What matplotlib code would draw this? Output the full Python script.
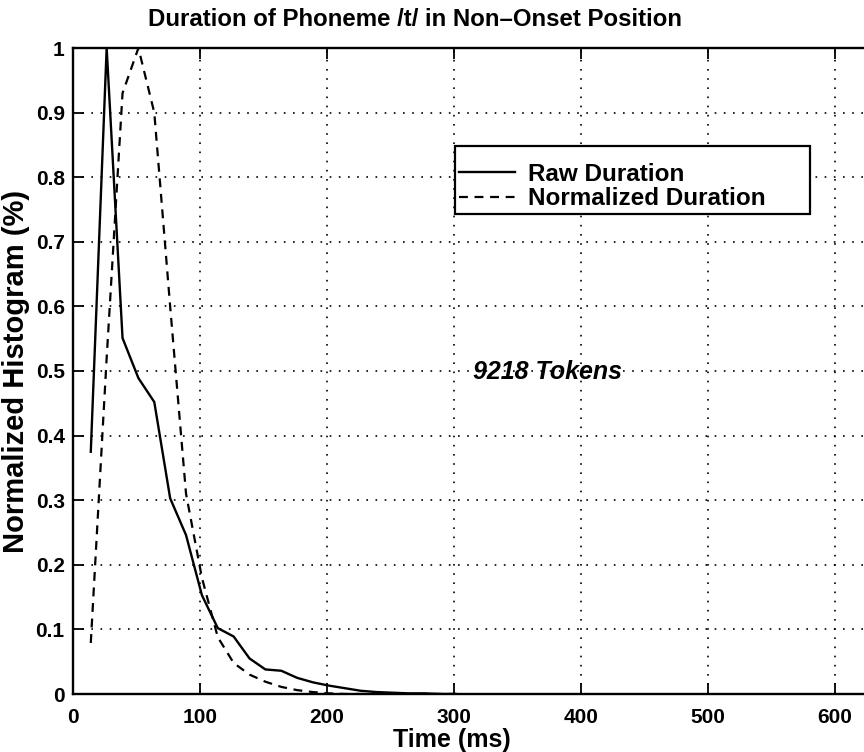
import matplotlib
matplotlib.use("Agg")
import matplotlib.pyplot as plt

plt.rcParams["font.family"] = ["Liberation Sans", "DejaVu Sans"]
plt.rcParams["font.weight"] = "bold"

# bin centres (ms)
time_ms = [14, 26.5, 39, 51.5, 64, 76.5, 89, 101.5, 114, 126.5, 139, 151.5,
           164, 176.5, 189, 201.5, 214, 226.5, 239, 251.5, 264, 276.5, 289, 301.5]
raw_dur = [0.375, 1.0, 0.551, 0.489, 0.452, 0.303, 0.246, 0.153, 0.102, 0.089,
           0.055, 0.038, 0.036, 0.025, 0.018, 0.013, 0.009, 0.005, 0.003, 0.002,
           0.001, 0.001, 0.0, 0.0]
norm_dur = [0.079, 0.52, 0.93, 1.0, 0.90, 0.60, 0.31, 0.18, 0.088, 0.048,
            0.030, 0.019, 0.011, 0.006, 0.003, 0.001, 0.0, 0.0, 0.0, 0.0,
            0.0, 0.0, 0.0, 0.0]

xticks = [0, 100, 200, 300, 400, 500, 600]
yticks = [0, 0.1, 0.2, 0.3, 0.4, 0.5, 0.6, 0.7, 0.8, 0.9, 1.0]
ytick_labels = ["0", "0.1", "0.2", "0.3", "0.4", "0.5", "0.6", "0.7", "0.8", "0.9", "1"]

fig = plt.figure(figsize=(8.64, 7.52), dpi=100)
W, H = 864, 752
# axes runs past the right edge of the picture (clipped like the scan)
ax = fig.add_axes([73 / W, 1 - 694 / H, (962 - 73) / W, (694 - 48) / H])

l1, = ax.plot(time_ms, raw_dur, color="black", lw=1.7)
l2, = ax.plot(time_ms, norm_dur, color="black", lw=1.6, linestyle=(0, (4, 3)))

ax.set_xlim(0, 700)
ax.set_ylim(0, 1)
ax.set_xticks(xticks)
ax.set_yticks(yticks)
ax.set_yticklabels(ytick_labels)
ax.tick_params(direction="in", length=8, width=1.3, labelsize=15, top=True,
               right=False)
ax.tick_params(axis="x", pad=10)
ax.tick_params(axis="y", pad=6)
for lab in ax.get_xticklabels() + ax.get_yticklabels():
    lab.set_fontweight("bold")
for s in ax.spines.values():
    s.set_linewidth(1.7)
ax.spines["right"].set_visible(False)

ax.grid(True, color="black", linestyle=(0, (1, 4.5)), linewidth=1.2)

# blank title pushes the entries down inside the box, as in the original
leg = ax.legend([l1, l2], ["Raw Duration", "Normalized Duration"],
                loc="center left", mode="expand",
                bbox_to_anchor=(455 / W, 1 - 211 / H, 355 / W, 62 / H),
                bbox_transform=fig.transFigure, borderaxespad=0,
                fancybox=False, framealpha=1, edgecolor="black",
                prop={"weight": "bold", "size": 17.5}, handlelength=2.3,
                handletextpad=0.55, borderpad=0.15, labelspacing=0.05,
                title=" ", title_fontsize=9)
leg.get_frame().set_linewidth(1.6)

ax.text(374, 0.498, "9218 Tokens", fontsize=18, fontweight="bold",
        fontstyle="italic", ha="center", va="center")

fig.text(415 / W, 1 - 19 / H, "Duration of Phoneme /t/ in Non\u2013Onset Position",
         ha="center", va="center", fontsize=17.3, fontweight="bold")
fig.text(452 / W, 1 - 740 / H, "Time (ms)", ha="center", va="center",
         fontsize=18, fontweight="bold")
fig.text(16 / W, 1 - 371 / H, "Normalized Histogram (%)", ha="center",
         va="center", rotation=90, fontsize=21, fontweight="bold")

fig.savefig("out.png", dpi=100)
